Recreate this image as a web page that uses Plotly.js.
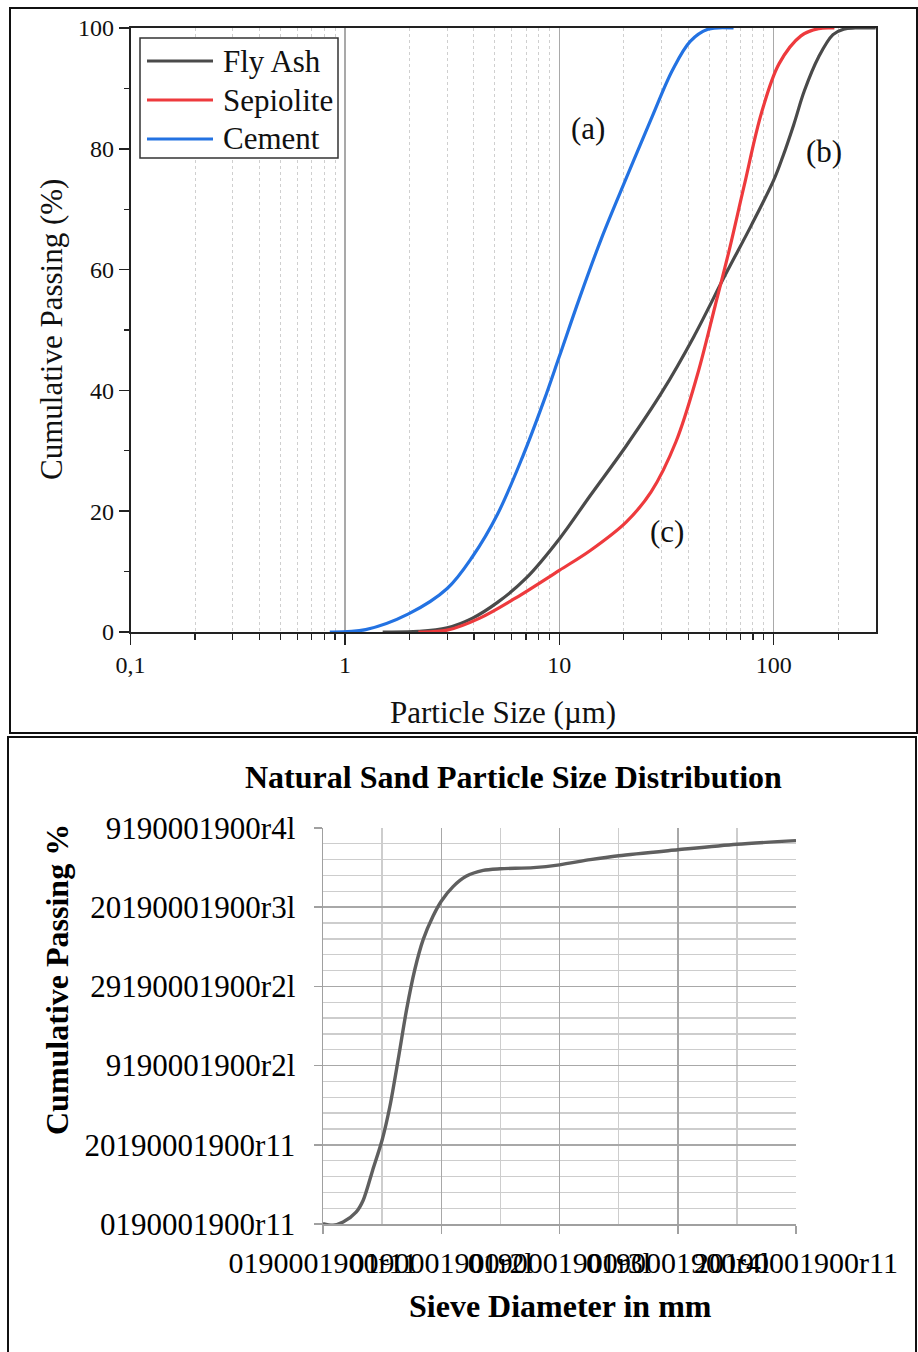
<!DOCTYPE html>
<html>
<head>
<meta charset="utf-8">
<script src="https://cdn.plot.ly/plotly-3.0.1.min.js"></script>
<style>
  html, body { margin: 0; padding: 0; background: #fff; }
  #chart { width: 918px; height: 1352px; }
</style>
</head>
<body>
<div id="chart"></div>
<script>
// ---- Upper panel: particle size distributions (log scale, µm) ----
const seriesNames = ['Fly Ash', 'Sepiolite', 'Cement'];
const seriesColors = ['#4a4a4a', '#ee3a3d', '#2372e2'];

const flyAshSize    = [1.5, 2.2, 3.0, 3.94, 5.15, 7.0, 10, 13.95, 20.5, 30.1, 42.4, 59.8, 78.3, 100, 110, 124, 139, 162, 189, 212, 240, 299];
const flyAshPassing = [0, 0.1, 0.7, 2.3, 4.9, 8.9, 15.4, 22.6, 30.8, 39.7, 48.9, 59.3, 67.2, 74.8, 78.6, 84.0, 89.6, 95.2, 98.9, 99.8, 100, 100];

const sepioliteSize    = [2.2, 3.0, 4.26, 6.24, 10, 13.95, 20.5, 26.8, 35, 44, 53.4, 62.2, 72.5, 87.8, 106, 134, 162, 192];
const sepiolitePassing = [0, 0.3, 2.3, 5.6, 10.2, 13.5, 18.2, 23.2, 31.5, 42.5, 54.1, 63.4, 73.6, 86.0, 94.1, 98.7, 99.9, 100];

const cementSize    = [0.85, 1.25, 1.98, 3.0, 3.94, 5.15, 6.74, 8.48, 10, 12.4, 15.7, 20.5, 26.8, 33.7, 40.8, 49.4, 65];
const cementPassing = [0, 0.4, 3.0, 7.2, 12.5, 19.5, 29.0, 38.3, 45.6, 55.2, 65.1, 75.1, 84.9, 93.0, 97.8, 99.8, 100];

const sizeTickVals  = [0.1, 1, 10, 100];
const sizeTickText  = ['0,1', '1', '10', '100'];
const sizeMinorVals = [0.2, 0.3, 0.4, 0.5, 0.6, 0.7, 0.8, 0.9,
                       2, 3, 4, 5, 6, 7, 8, 9,
                       20, 30, 40, 50, 60, 70, 80, 90, 200];
const passTickVals  = [0, 20, 40, 60, 80, 100];
const passMinorVals = [10, 30, 50, 70, 90];

const curveLabels = ['(a)', '(b)', '(c)'];
const curveLabelX = [13.6, 171, 31.8];
const curveLabelY = [83.4, 79.5, 16.6];

// ---- Lower panel: natural sand grading ----
const sandSize    = [0, 0.085, 0.17, 0.28, 0.34, 0.42, 0.5, 0.565, 0.635, 0.706, 0.776, 0.847, 0.93, 1.0, 1.1, 1.21, 1.355, 1.5, 1.78, 2.0, 2.26, 2.5, 3.0, 3.5, 4.0];
const sandPassing = [0.1, -0.3, 0.5, 3.0, 6.0, 13.6, 21.2, 29.6, 41.4, 54.0, 64.2, 71.8, 77.7, 81.5, 85.2, 87.8, 89.3, 89.7, 90.0, 90.7, 92.0, 93.0, 94.5, 95.9, 96.8];

const sandXTickVals = [0, 1, 2, 3, 4];
const sandXTickText = ['0190001900r11', '0190001900r2l', '0190001900r3l', '0190001900r4l', '20190001900r11'];
const sandYTickVals = [0, 20, 40, 60, 80, 100];
const sandYTickText = ['0190001900r11', '20190001900r11', '9190001900r2l', '29190001900r2l', '20190001900r3l', '9190001900r4l'];

// ---- page geometry helpers (pixels -> paper fractions) ----
const W = 918, H = 1352;
const px = v => v / W;
const py = v => 1 - v / H;
const SERIF = 'Liberation Serif, Times New Roman, serif';

const traces = [
  { x: flyAshSize, y: flyAshPassing },
  { x: sepioliteSize, y: sepiolitePassing },
  { x: cementSize, y: cementPassing }
].map((d, i) => ({
  type: 'scatter', mode: 'lines', name: seriesNames[i],
  x: d.x, y: d.y, xaxis: 'x', yaxis: 'y',
  line: { color: seriesColors[i], width: 3.2, shape: 'spline', smoothing: 1 },
  showlegend: false, hoverinfo: 'skip'
}));

traces.push({
  type: 'scatter', mode: 'lines', name: 'Natural Sand',
  x: sandSize, y: sandPassing, xaxis: 'x2', yaxis: 'y2',
  line: { color: '#5f5f5f', width: 3.4, shape: 'spline', smoothing: 0.8 },
  showlegend: false, hoverinfo: 'skip', cliponaxis: false
});

const shapes = [
  // panel frames
  { type: 'rect', xref: 'paper', yref: 'paper', x0: px(10), x1: px(917), y0: py(733), y1: py(8),
    line: { color: '#111', width: 2 } },
  { type: 'rect', xref: 'paper', yref: 'paper', x0: px(8), x1: px(916), y0: py(1362), y1: py(737),
    line: { color: '#111', width: 2 } },
  // legend frame
  { type: 'rect', xref: 'paper', yref: 'paper', x0: px(140), x1: px(338), y0: py(158), y1: py(38),
    line: { color: '#333', width: 1.5 }, fillcolor: 'rgba(255,255,255,1)', layer: 'above' }
];

const annotations = [];
const legendRows = [61, 100, 139];
seriesNames.forEach((name, i) => {
  shapes.push({ type: 'line', xref: 'paper', yref: 'paper',
    x0: px(147), x1: px(213), y0: py(legendRows[i]), y1: py(legendRows[i]),
    line: { color: seriesColors[i], width: 3.2 }, layer: 'above' });
  annotations.push({ xref: 'paper', yref: 'paper', x: px(221), y: py(legendRows[i]),
    xanchor: 'left', yanchor: 'middle', showarrow: false, text: name,
    font: { family: SERIF, size: 31, color: '#111' } });
});

curveLabels.forEach((t, i) => {
  annotations.push({ xref: 'x', yref: 'y', x: Math.log10(curveLabelX[i]), y: curveLabelY[i],
    xanchor: 'center', yanchor: 'middle',
    showarrow: false, text: t, font: { family: SERIF, size: 31, color: '#111' } });
});

// axis and chart titles
const centred = { xref: 'paper', yref: 'paper', xanchor: 'center', yanchor: 'middle', showarrow: false };
annotations.push(
  Object.assign({}, centred, { x: px(503), y: py(712),
    text: 'Particle Size (µm)', font: { family: SERIF, size: 31, color: '#111' } }),
  Object.assign({}, centred, { x: px(52), y: py(330), textangle: -90,
    text: 'Cumulative Passing (%)', font: { family: SERIF, size: 31, color: '#111' } }),
  Object.assign({}, centred, { x: px(513), y: py(777),
    text: 'Natural Sand Particle Size Distribution',
    font: { family: SERIF, size: 32, color: '#000', weight: 'bold' } }),
  Object.assign({}, centred, { x: px(57), y: py(980), textangle: -90,
    text: 'Cumulative Passing %', font: { family: SERIF, size: 32, color: '#000', weight: 'bold' } }),
  Object.assign({}, centred, { x: px(560), y: py(1306),
    text: 'Sieve Diameter in mm', font: { family: SERIF, size: 32, color: '#000', weight: 'bold' } })
);

const layout = {
  width: W, height: H,
  margin: { l: 0, r: 0, t: 0, b: 0 },
  paper_bgcolor: '#fff', plot_bgcolor: '#fff',
  showlegend: false,
  xaxis: {
    type: 'log', range: [-1, Math.log10(300)],
    domain: [px(130.5), px(876)], anchor: 'y',
    tickmode: 'array', tickvals: sizeTickVals, ticktext: sizeTickText,
    ticks: 'outside', ticklen: 11, tickwidth: 1.5, tickcolor: '#222',
    tickfont: { family: SERIF, size: 24, color: '#111' },
    showline: true, linecolor: '#222', linewidth: 1.6, mirror: true,
    showgrid: true, gridcolor: '#a9a9a9', gridwidth: 1.5, zeroline: false,
    minor: { tickmode: 'array', tickvals: sizeMinorVals, ticks: 'outside', ticklen: 6,
             tickwidth: 1.2, tickcolor: '#222', showgrid: true, gridcolor: '#cfcfcf',
             griddash: 'dot', gridwidth: 1 }
  },
  yaxis: {
    range: [0, 100], domain: [py(632), py(28)], anchor: 'x',
    tickmode: 'array', tickvals: passTickVals,
    ticks: 'outside', ticklen: 10, tickwidth: 1.5, tickcolor: '#222',
    tickfont: { family: SERIF, size: 24, color: '#111' },
    showline: true, linecolor: '#222', linewidth: 1.6, mirror: true,
    showgrid: false, zeroline: false,
    minor: { tickmode: 'array', tickvals: passMinorVals, ticks: 'outside', ticklen: 5,
             tickwidth: 1.2, tickcolor: '#222', showgrid: false }
  },
  xaxis2: {
    range: [0, 4], domain: [px(323), px(796)], anchor: 'y2',
    tickmode: 'array', tickvals: sandXTickVals, ticktext: sandXTickText, tickangle: 0,
    ticks: 'outside', ticklen: 8, tickwidth: 1.5, tickcolor: '#a0a0a0',
    ticklabelstandoff: 3,
    tickfont: { family: SERIF, size: 30, color: '#000' },
    showline: true, linecolor: '#a0a0a0', linewidth: 1.5,
    showgrid: true, gridcolor: '#a8a8a8', gridwidth: 1.5, zeroline: false,
    minor: { tickmode: 'array', tickvals: [0.5, 1.5, 2.5, 3.5], ticks: '',
             showgrid: true, gridcolor: '#cdcdcd', gridwidth: 1.3 }
  },
  yaxis2: {
    range: [0, 100], domain: [py(1224), py(828)], anchor: 'x2',
    tickmode: 'array', tickvals: sandYTickVals, ticktext: sandYTickText,
    ticks: 'outside', ticklen: 8, tickwidth: 1.5, tickcolor: '#a0a0a0',
    ticklabelstandoff: 12,
    tickfont: { family: SERIF, size: 31, color: '#000' },
    showline: true, linecolor: '#a0a0a0', linewidth: 1.5,
    showgrid: true, gridcolor: '#a8a8a8', gridwidth: 1.5, zeroline: false,
    minor: { dtick: 4, ticks: '', showgrid: true, gridcolor: '#cdcdcd', gridwidth: 1.3 }
  },
  shapes: shapes,
  annotations: annotations
};

Plotly.newPlot('chart', traces, layout, { staticPlot: true, displayModeBar: false });
</script>
</body>
</html>
